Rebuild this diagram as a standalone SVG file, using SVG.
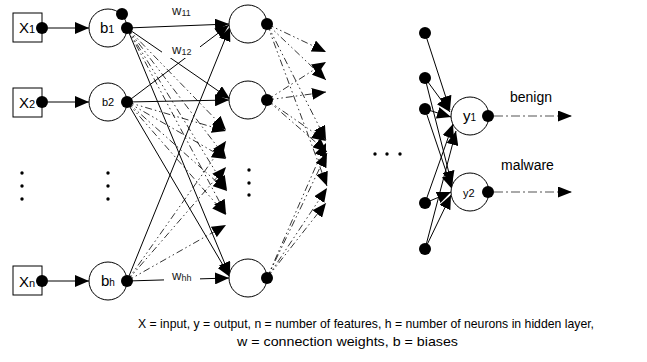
<svg xmlns="http://www.w3.org/2000/svg" width="647" height="362" viewBox="0 0 647 362">
  <style>
    .box { fill: #fff; stroke: #000; stroke-width: 1; }
    .node { fill: #fff; stroke: #000; stroke-width: 1; }
    .dot { fill: #000; }
    .sdot { fill: #000; }
    .solid { fill: none; stroke: #000; stroke-width: 1; }
    .dash { fill: none; stroke: #000; stroke-width: 0.8; stroke-dasharray: 7 3 1.5 3 1.5 3; }
    .out { fill: none; stroke: #555; stroke-width: 1.2; stroke-dasharray: 9 3 2 3; }
    text { font-family: "Liberation Sans", Arial, sans-serif; fill: #000; }
    .lbl { font-size: 15px; }
    .sub { font-size: 9px; }
    .w { font-size: 13px; fill: #222; }
    .tag { font-size: 14px; }
    .cap { font-size: 13.5px; }
  </style>
  <defs>
    <marker id="arr" markerUnits="userSpaceOnUse" markerWidth="14" markerHeight="12" refX="14" refY="6" orient="auto">
      <path d="M0,0 L14,6 L0,12 z" fill="#000"/>
    </marker>
    <marker id="arrOut" markerUnits="userSpaceOnUse" markerWidth="14" markerHeight="11" refX="14" refY="5.5" orient="auto">
      <path d="M0,0 L14,5.5 L0,11 z" fill="#000"/>
    </marker>
  </defs>

  <rect width="647" height="362" fill="#fff"/>

  <!-- connectors -->
  <g id="connectors">
    <!-- inputs to bias nodes -->
    <line class="solid" x1="48" y1="28" x2="89" y2="28" marker-end="url(#arr)"/>
    <line class="solid" x1="48" y1="102" x2="89" y2="102" marker-end="url(#arr)"/>
    <line class="solid" x1="48" y1="281" x2="89" y2="281" marker-end="url(#arr)"/>

    <!-- weighted links into hidden layer -->
    <line class="solid" x1="127" y1="28" x2="229" y2="24" marker-end="url(#arr)"/>
    <line class="solid" x1="127" y1="28" x2="230" y2="99" marker-end="url(#arr)"/>
    <line class="solid" x1="127" y1="102" x2="229" y2="25" marker-end="url(#arr)"/>
    <line class="solid" x1="127" y1="102" x2="229" y2="100" marker-end="url(#arr)"/>
    <line class="solid" x1="127" y1="28" x2="230" y2="276" marker-end="url(#arr)"/>
    <line class="solid" x1="127" y1="102" x2="230" y2="277" marker-end="url(#arr)"/>
    <line class="solid" x1="127" y1="281" x2="230" y2="27" marker-end="url(#arr)"/>
    <line class="solid" x1="127" y1="281" x2="229" y2="278" marker-end="url(#arr)"/>

    <!-- links towards the elided hidden neurons -->
    <line class="dash" x1="127" y1="28" x2="226" y2="130" marker-end="url(#arr)"/>
    <line class="dash" x1="127" y1="28" x2="226" y2="158" marker-end="url(#arr)"/>
    <line class="dash" x1="127" y1="28" x2="227" y2="190" marker-end="url(#arr)"/>
    <line class="dash" x1="127" y1="28" x2="226" y2="214" marker-end="url(#arr)"/>
    <line class="dash" x1="127" y1="102" x2="226" y2="131" marker-end="url(#arr)"/>
    <line class="dash" x1="127" y1="102" x2="226" y2="159" marker-end="url(#arr)"/>
    <line class="dash" x1="127" y1="102" x2="227" y2="191" marker-end="url(#arr)"/>
    <line class="dash" x1="127" y1="102" x2="226" y2="215" marker-end="url(#arr)"/>
    <line class="dash" x1="127" y1="281" x2="226" y2="141" marker-end="url(#arr)"/>
    <line class="dash" x1="127" y1="281" x2="226" y2="167" marker-end="url(#arr)"/>
    <line class="dash" x1="127" y1="281" x2="226" y2="225" marker-end="url(#arr)"/>

    <!-- hidden layer onwards -->
    <line class="dash" x1="267" y1="24" x2="326" y2="52" marker-end="url(#arr)"/>
    <line class="dash" x1="267" y1="24" x2="326" y2="80" marker-end="url(#arr)"/>
    <line class="dash" x1="267" y1="24" x2="326" y2="140" marker-end="url(#arr)"/>
    <line class="dash" x1="267" y1="24" x2="327" y2="186" marker-end="url(#arr)"/>
    <line class="dash" x1="267" y1="100" x2="326" y2="62" marker-end="url(#arr)"/>
    <line class="dash" x1="267" y1="100" x2="326" y2="92" marker-end="url(#arr)"/>
    <line class="dash" x1="267" y1="100" x2="326" y2="141" marker-end="url(#arr)"/>
    <line class="dash" x1="267" y1="100" x2="327" y2="152" marker-end="url(#arr)"/>
    <line class="dash" x1="267" y1="278" x2="326" y2="143" marker-end="url(#arr)"/>
    <line class="dash" x1="267" y1="278" x2="327" y2="153" marker-end="url(#arr)"/>
    <line class="dash" x1="267" y1="278" x2="327" y2="188" marker-end="url(#arr)"/>
    <line class="dash" x1="267" y1="278" x2="326" y2="203" marker-end="url(#arr)"/>

    <!-- last hidden layer to outputs -->
    <line class="solid" x1="425" y1="33" x2="450" y2="110" marker-end="url(#arr)"/>
    <line class="solid" x1="425" y1="78" x2="450" y2="112" marker-end="url(#arr)"/>
    <line class="solid" x1="425" y1="78" x2="452" y2="185" marker-end="url(#arr)"/>
    <line class="solid" x1="425" y1="109" x2="451" y2="117" marker-end="url(#arr)"/>
    <line class="solid" x1="425" y1="109" x2="452" y2="189" marker-end="url(#arr)"/>
    <line class="solid" x1="425" y1="203" x2="453" y2="124" marker-end="url(#arr)"/>
    <line class="solid" x1="425" y1="203" x2="451" y2="192" marker-end="url(#arr)"/>
    <line class="solid" x1="425" y1="249" x2="456" y2="131" marker-end="url(#arr)"/>
    <line class="solid" x1="425" y1="249" x2="451" y2="195" marker-end="url(#arr)"/>

    <!-- outputs -->
    <line class="out" x1="494" y1="116" x2="572" y2="116" marker-end="url(#arrOut)"/>
    <line class="out" x1="494" y1="192" x2="572" y2="192" marker-end="url(#arrOut)"/>
  </g>

  <!-- weight labels (white backing breaks the lines they sit on) -->
  <g id="weights">
    <text class="w" x="172" y="15">w<tspan class="sub" dy="1">11</tspan></text>
    <rect x="162" y="40" width="38" height="18" fill="#fff"/>
    <text class="w" x="172" y="54">w<tspan class="sub" dy="1">12</tspan></text>
    <rect x="164" y="268" width="36" height="18" fill="#fff"/>
    <text class="w" x="172" y="280">w<tspan class="sub" dy="1">hh</tspan></text>
  </g>

  <!-- input nodes -->
  <g id="x1">
    <rect class="box" x="13" y="13" width="29" height="29"/>
    <text class="lbl" x="19" y="33">X<tspan font-size="11">1</tspan></text>
    <circle class="dot" cx="42" cy="28" r="6"/>
  </g>
  <g id="x2">
    <rect class="box" x="13" y="88" width="29" height="29"/>
    <text class="lbl" x="19" y="108">X<tspan font-size="11">2</tspan></text>
    <circle class="dot" cx="42" cy="102" r="6"/>
  </g>
  <g id="xn">
    <rect class="box" x="13" y="266" width="29" height="29"/>
    <text class="lbl" x="19" y="287">X<tspan font-size="11">n</tspan></text>
    <circle class="dot" cx="42" cy="281" r="6"/>
  </g>
  <g id="x-ellipsis">
    <circle class="sdot" cx="22" cy="173" r="1.7"/>
    <circle class="sdot" cx="22" cy="186" r="1.7"/>
    <circle class="sdot" cx="22" cy="199" r="1.7"/>
  </g>

  <!-- bias nodes -->
  <g id="b1">
    <circle class="node" cx="108" cy="28" r="19"/>
    <text class="lbl" x="100" y="33">b<tspan font-size="11">1</tspan></text>
    <circle class="dot" cx="122" cy="14" r="6"/>
    <circle class="dot" cx="127" cy="28" r="6"/>
  </g>
  <g id="b2">
    <circle class="node" cx="108" cy="102" r="19"/>
    <text x="102" y="106" font-size="11">b2</text>
    <circle class="dot" cx="127" cy="102" r="6"/>
  </g>
  <g id="bh">
    <circle class="node" cx="108" cy="281" r="19"/>
    <text class="lbl" x="101" y="286">b<tspan font-size="10">h</tspan></text>
    <circle class="dot" cx="127" cy="281" r="6"/>
  </g>
  <g id="b-ellipsis">
    <circle class="sdot" cx="108" cy="173" r="1.7"/>
    <circle class="sdot" cx="108" cy="186" r="1.7"/>
    <circle class="sdot" cx="108" cy="199" r="1.7"/>
  </g>

  <!-- hidden layer -->
  <g id="h1">
    <circle class="node" cx="248" cy="24" r="19"/>
    <circle class="dot" cx="267" cy="24" r="6"/>
  </g>
  <g id="h2">
    <circle class="node" cx="248" cy="100" r="19"/>
    <circle class="dot" cx="267" cy="100" r="6"/>
  </g>
  <g id="hh">
    <circle class="node" cx="248" cy="278" r="19"/>
    <circle class="dot" cx="267" cy="278" r="6"/>
  </g>
  <g id="h-ellipsis">
    <circle class="sdot" cx="249" cy="170" r="1.7"/>
    <circle class="sdot" cx="249" cy="183" r="1.7"/>
    <circle class="sdot" cx="249" cy="195" r="1.7"/>
  </g>

  <!-- further layers elided -->
  <g id="layer-ellipsis">
    <circle class="sdot" cx="375" cy="154" r="1.7"/>
    <circle class="sdot" cx="387" cy="154" r="1.7"/>
    <circle class="sdot" cx="400" cy="154" r="1.7"/>
  </g>

  <!-- last hidden layer outputs -->
  <g id="last-hidden">
    <circle class="dot" cx="425" cy="33" r="6"/>
    <circle class="dot" cx="425" cy="78" r="6"/>
    <circle class="dot" cx="425" cy="109" r="6"/>
    <circle class="dot" cx="425" cy="203" r="6"/>
    <circle class="dot" cx="425" cy="249" r="6"/>
  </g>

  <!-- output nodes -->
  <g id="y1">
    <circle class="node" cx="470" cy="116" r="19"/>
    <text class="lbl" x="463" y="121">y<tspan font-size="10">1</tspan></text>
    <circle class="dot" cx="488" cy="116" r="6"/>
    <text class="tag" x="510" y="102">benign</text>
  </g>
  <g id="y2">
    <circle class="node" cx="470" cy="192" r="19"/>
    <text x="463" y="197" font-size="11">y2</text>
    <circle class="dot" cx="488" cy="192" r="6"/>
    <text class="tag" x="501" y="170">malware</text>
  </g>

  <!-- legend -->
  <g id="caption">
    <text class="cap" x="138" y="328" textLength="456" lengthAdjust="spacingAndGlyphs">X = input, y = output, n = number of features, h = number of neurons in hidden layer,</text>
    <text class="cap" x="237" y="346" textLength="221" lengthAdjust="spacingAndGlyphs">w = connection weights, b = biases</text>
  </g>
</svg>
